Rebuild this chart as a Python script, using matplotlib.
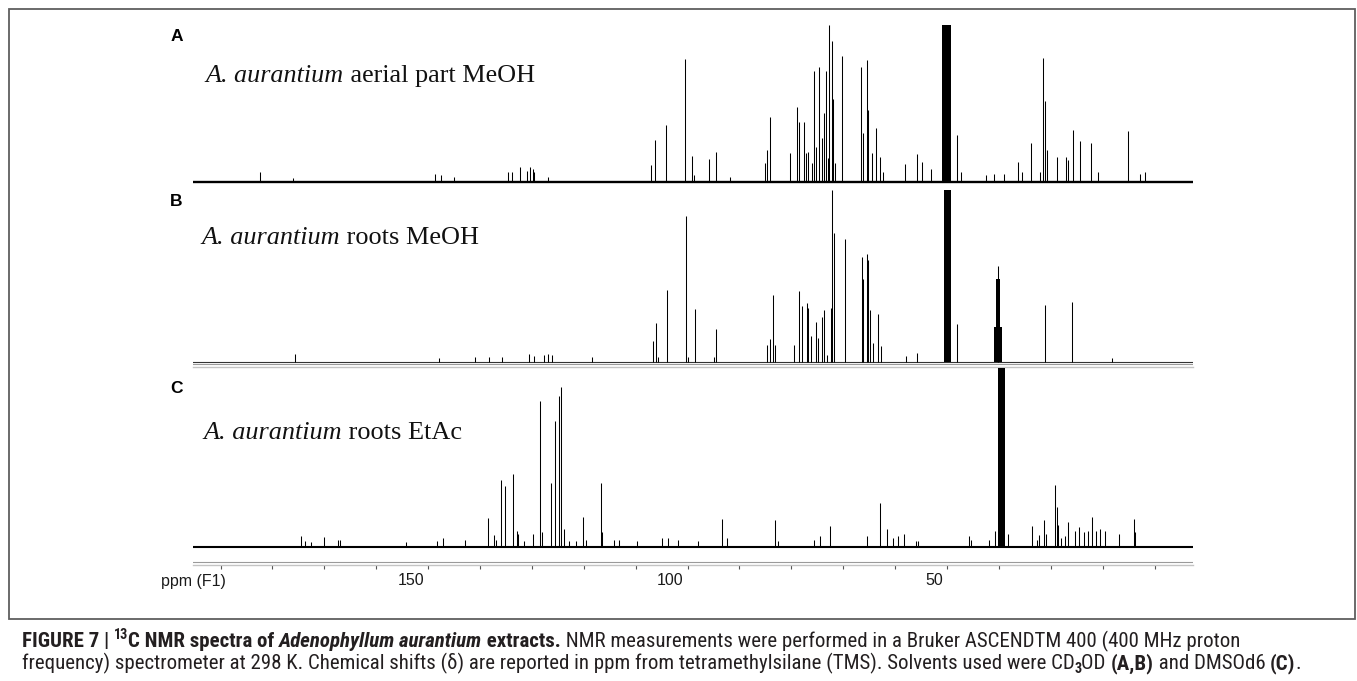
import matplotlib
matplotlib.use("Agg")
import matplotlib.pyplot as plt
from matplotlib import font_manager
from matplotlib.patches import Rectangle
from matplotlib.transforms import ScaledTranslation

W, H, DPI = 1357, 681, 100

# ---------------- data (ppm positions, relative peak heights) ----------------
a_ppm = [182.3, 176.0, 148.6, 147.5, 145.0, 134.6, 133.9, 132.2, 131.0, 130.3, 129.8, 129.5,
         126.9, 107.0, 106.2, 104.1, 100.4, 99.2, 98.8, 95.9, 94.6, 91.8,
         85.0, 84.6, 84.05, 80.3, 79.0, 78.5, 77.55, 77.2, 76.7, 76.0, 75.7, 75.2, 74.6,
         74.1, 73.7, 73.35, 73.0, 72.75, 72.25, 72.0, 71.5, 70.2,
         66.6, 66.1, 65.5, 65.2, 64.5, 63.6, 63.0, 62.4, 58.1, 55.7, 54.85, 53.0,
         48.0, 47.3, 42.4, 40.9, 39.1, 36.3, 35.5, 33.75, 32.1, 31.5, 31.1, 30.8,
         28.8, 27.05, 26.6, 25.7, 24.3, 22.25, 21.0, 15.1, 12.9, 11.85]
a_h = [0.064, 0.025, 0.05, 0.045, 0.03, 0.06, 0.06, 0.096, 0.07, 0.096, 0.08, 0.06,
       0.03, 0.107, 0.266, 0.362, 0.78, 0.166, 0.04, 0.143, 0.192, 0.03,
       0.117, 0.2, 0.415, 0.185, 0.475, 0.383, 0.383, 0.18, 0.19, 0.12, 0.706, 0.22, 0.734,
       0.28, 0.44, 0.706, 0.15, 1.0, 0.90, 0.526, 0.12, 0.80,
       0.73, 0.31, 0.777, 0.457, 0.185, 0.34, 0.16, 0.06, 0.11, 0.175, 0.127, 0.08,
       0.30, 0.06, 0.04, 0.05, 0.05, 0.123, 0.06, 0.25, 0.06, 0.79, 0.515, 0.2,
       0.16, 0.155, 0.14, 0.33, 0.258, 0.25, 0.06, 0.325, 0.05, 0.06]
a_solv_ppm = [50.05]
a_solv_w = [1.7]
a_solv_h = [1.1]

b_ppm = [175.7, 147.9, 140.9, 138.3, 135.7, 130.6, 129.6, 127.6, 126.9, 126.1, 118.5,
         106.7, 106.0, 105.6, 103.9, 100.3, 99.9, 98.6, 94.9, 94.6,
         84.6, 84.05, 83.45, 83.2, 79.4, 78.5, 78.0, 77.0, 76.7, 76.15, 75.2, 74.9, 74.1,
         73.7, 73.2, 72.4, 72.25, 71.7, 69.7,
         66.4, 66.1, 65.5, 65.2, 64.9, 64.3, 63.25, 62.7, 57.9, 55.7, 48.1,
         40.25, 31.2, 26.0, 18.3]
b_h = [0.045, 0.02, 0.025, 0.025, 0.03, 0.045, 0.035, 0.04, 0.045, 0.04, 0.03,
       0.12, 0.223, 0.03, 0.418, 0.85, 0.03, 0.305, 0.03, 0.19,
       0.1, 0.13, 0.388, 0.1, 0.1, 0.41, 0.323, 0.342, 0.31, 0.15, 0.23, 0.14, 0.26,
       0.3, 0.04, 0.31, 1.0, 0.748, 0.713,
       0.61, 0.48, 0.63, 0.59, 0.3, 0.11, 0.28, 0.09, 0.035, 0.05, 0.218,
       0.557, 0.33, 0.35, 0.02]
b_solv_ppm = [49.9, 40.2, 40.2]
b_solv_w = [1.4, 1.6, 0.9]
b_solv_h = [1.1, 0.2, 0.48]

c_ppm = [174.4, 173.8, 172.5, 170.0, 167.4, 167.0, 154.2, 148.3, 147.1, 142.9,
         138.5, 137.3, 136.9, 135.9, 135.2, 133.7, 132.9, 132.6, 131.6,
         129.7, 128.4, 128.0, 126.4, 125.5, 124.8, 124.3, 123.9, 122.8, 121.5, 120.2,
         119.5, 116.7, 116.4, 114.1, 113.2, 109.8, 105.0, 103.8, 101.9, 98.0,
         93.3, 92.4, 83.1, 82.6, 75.6, 74.5, 72.5, 65.5, 63.0, 61.55, 60.5, 59.5, 58.2,
         56.0, 55.6, 45.7, 45.3, 42.0, 40.7, 38.3,
         33.7, 32.6, 32.2, 31.3, 31.0, 29.1, 28.9, 28.6, 28.0, 27.3, 26.75, 25.4, 24.6,
         23.6, 22.8, 22.1, 21.2, 20.6, 19.5, 16.8, 14.0, 13.7]
c_h = [0.062, 0.03, 0.025, 0.056, 0.035, 0.035, 0.025, 0.03, 0.05, 0.04,
       0.159, 0.065, 0.04, 0.373, 0.34, 0.407, 0.09, 0.07, 0.03,
       0.07, 0.817, 0.08, 0.355, 0.705, 0.843, 0.895, 0.1, 0.03, 0.03, 0.168,
       0.04, 0.355, 0.08, 0.04, 0.04, 0.03, 0.05, 0.05, 0.035, 0.03,
       0.155, 0.05, 0.149, 0.03, 0.04, 0.06, 0.116, 0.06, 0.243, 0.1, 0.05, 0.06, 0.07,
       0.03, 0.03, 0.062, 0.04, 0.04, 0.09, 0.07,
       0.116, 0.04, 0.065, 0.149, 0.07, 0.345, 0.22, 0.12, 0.05, 0.06, 0.14, 0.086, 0.11,
       0.08, 0.09, 0.168, 0.09, 0.1, 0.09, 0.07, 0.155, 0.08]
c_solv_ppm = [39.5]
c_solv_w = [1.35]
c_solv_h = [1.1]

sample_labels = [[("A. aurantium", "i"), (" aerial part MeOH", "")],
                 [("A. aurantium", "i"), (" roots MeOH", "")],
                 [("A. aurantium", "i"), (" roots EtAc", "")]]
panel_letters = ["A", "B", "C"]
tick_ppm = [190, 180, 170, 160, 150, 140, 130, 120, 110, 100, 90, 80, 70, 60, 50, 40, 30, 20, 10]
tick_labels = ["", "", "", "", "150", "", "", "", "", "100", "", "", "", "", "50", "", "", "", ""]
axis_title = "ppm (F1)"

caption_line1 = [("FIGURE 7 | ", "b"), ("13", "bsup"), ("C NMR spectra of ", "b"),
                 ("Adenophyllum aurantium", "bi"), (" extracts.", "b"),
                 (" NMR measurements were performed in a Bruker ASCENDTM 400 (400 MHz proton", "")]
caption_line2 = [("frequency) spectrometer at 298 K. Chemical shifts (\u03b4) are reported in ppm from "
                  "tetramethylsilane (TMS). Solvents used were CD", ""), ("3", "sub"), ("OD ", ""),
                 ("(A,B)", "b"), (" and DMSOd6 ", ""), ("(C)", "b"), (".", "")]

# ---------------- layout constants (pixels) ----------------
X_LEFT, X_RIGHT = 193, 1193
PPM_LEFT, PPM_RIGHT = 195.3, 2.6
panels = [  # (top, baseline, axes bottom)
    (25.0, 181.7, 186.0),
    (190.0, 361.7, 367.0),
    (368.0, 546.7, 565.0),
]


def has_font(name):
    try:
        font_manager.findfont(font_manager.FontProperties(family=name), fallback_to_default=False)
        return True
    except Exception:
        return False


CAP_FAMILY = ["Liberation Sans", "DejaVu Sans"]
for cand in ["Liberation Sans Narrow", "Roboto Condensed", "Open Sans Condensed",
             "DejaVu Sans Condensed"]:
    if has_font(cand):
        CAP_FAMILY = [cand, "DejaVu Sans"]
        break
SANS = ["Liberation Sans", "DejaVu Sans"]
SERIF = ["Liberation Serif", "DejaVu Serif"]

fig = plt.figure(figsize=(W / DPI, H / DPI), dpi=DPI)
fig.patch.set_facecolor("white")
renderer = fig.canvas.get_renderer()


def fx(px):
    return px / W


def fy(py):
    return 1 - py / H


def kw_for(style, size, family):
    kw = dict(fontsize=size, family=family,
              fontweight="bold" if "b" in style else "normal",
              fontstyle="italic" if "i" in style else "normal")
    if "sup" in style or "sub" in style:
        kw["fontsize"] = size * 0.68
    return kw


def _w(s, kw):
    t = fig.text(0, 0, s, **kw)
    w = t.get_window_extent(renderer).width
    t.remove()
    return w


def twidth(s, kw):
    # advance width of s, including any leading/trailing spaces
    return _w("x" + s + "x", kw) - _w("xx", kw)


def runs_width(runs, size, family):
    return sum(twidth(s, kw_for(st, size, family)) for s, st in runs)


def draw_runs(x, y_base, runs, size, family, color):
    for s, st in runs:
        kw = kw_for(st, size, family)
        dy = 0.0
        px = size * DPI / 72.0
        if "sup" in st:
            dy = 0.40 * px
        elif "sub" in st:
            dy = -0.18 * px
        fig.text(fx(x), fy(y_base - dy), s, ha="left", va="baseline", color=color, **kw)
        x += twidth(s, kw)


# ---------------- spectra ----------------
datasets = [
    (a_ppm, a_h, a_solv_ppm, a_solv_w, a_solv_h, 1.7),
    (b_ppm, b_h, b_solv_ppm, b_solv_w, b_solv_h, 0.8),
    (c_ppm, c_h, c_solv_ppm, c_solv_w, c_solv_h, 1.5),
]
axes = []
for i, ((top, base, bottom), (pp, hh, sp, sw, sh, blw)) in enumerate(zip(panels, datasets)):
    ax = fig.add_axes([fx(X_LEFT), fy(bottom), (X_RIGHT - X_LEFT) / W, (bottom - top) / H])
    ax.set_xlim(PPM_LEFT, PPM_RIGHT)
    ax.set_ylim(-(bottom - base) / (base - top), 1.0)
    ax.set_facecolor("none")
    for s in ax.spines.values():
        s.set_visible(False)
    ax.set_yticks([])
    ax.axhline(0, color="black" if i != 1 else "#333333", lw=blw, zorder=2)
    ax.vlines(pp, 0, hh, color="black", lw=0.75, zorder=3)
    ax.bar(sp, sh, width=sw, bottom=0, color="black", linewidth=0, zorder=3)
    axes.append(ax)
    if i == 0:
        ax.set_xticks([])
    elif i == 1:
        ax.set_xticks([])
        ax.spines["bottom"].set_visible(True)
        ax.spines["bottom"].set_color("#c4c4c4")
        ax.spines["bottom"].set_linewidth(1.0)
        ax.axhline(ax.get_ylim()[0] + 2.6 / (base - top), color="#9a9a9a", lw=0.8)
    else:
        ax.spines["bottom"].set_visible(True)
        ax.spines["bottom"].set_color("#c4c4c4")
        ax.spines["bottom"].set_linewidth(1.0)
        ax.axhline(ax.get_ylim()[0] + 3.0 / (base - top), color="#9a9a9a", lw=0.8)
        ax.set_xticks(tick_ppm, tick_labels)
        ax.tick_params(axis="x", direction="out", length=3.0, width=0.8, color="#555555",
                       pad=3.0, labelsize=11.5, labelcolor="#1a1a1a")
        off = ScaledTranslation(-4 / DPI, 0, fig.dpi_scale_trans)
        for lab in ax.get_xticklabels():
            lab.set_family(SANS)
            lab.set_ha("right")
            lab.set_transform(lab.get_transform() + off)

# axis title
fig.text(fx(161), fy(581.7), axis_title, ha="left", va="center", fontsize=11.5,
         family=SANS, color="#1a1a1a")

# panel letters
for letter, y in zip(panel_letters, [36.7, 201.7, 388.3]):
    fig.text(fx(176.5), fy(y), letter, ha="center", va="center", fontsize=12.5,
             fontweight="bold", family=SANS, color="black")

# sample labels (fit to measured widths)
label_pos = [(205.5, 73.3, 329), (201.7, 235.0, 277), (203.6, 430.0, 258)]
for runs, (x0, yc, tw) in zip(sample_labels, label_pos):
    w0 = runs_width(runs, 18, SERIF)
    size = 18 * tw / w0
    px = size * DPI / 72.0
    draw_runs(x0, yc + 0.331 * px, runs, size, SERIF, "#111111")

# frame
FRAME_BOTTOM = 619
fig.add_artist(Rectangle((fx(8.5), fy(FRAME_BOTTOM)), (1355 - 8.5) / W, (FRAME_BOTTOM - 9) / H,
                         transform=fig.transFigure, fill=False, edgecolor="#5f5f5f", lw=1.3))

# caption: one size for both lines, fitted to the two measured line lengths
w_sum = runs_width(caption_line1, 12, CAP_FAMILY) + runs_width(caption_line2, 12, CAP_FAMILY)
csize = 12 * ((1266 - 21.6) + (1273 - 21.6)) / w_sum
cpx = csize * DPI / 72.0
draw_runs(21.6, 640 + 0.356 * cpx, caption_line1, csize, CAP_FAMILY, "#231f20")
draw_runs(21.6, 662 + 0.356 * cpx, caption_line2, csize, CAP_FAMILY, "#231f20")

fig.savefig("out.png", dpi=DPI)
